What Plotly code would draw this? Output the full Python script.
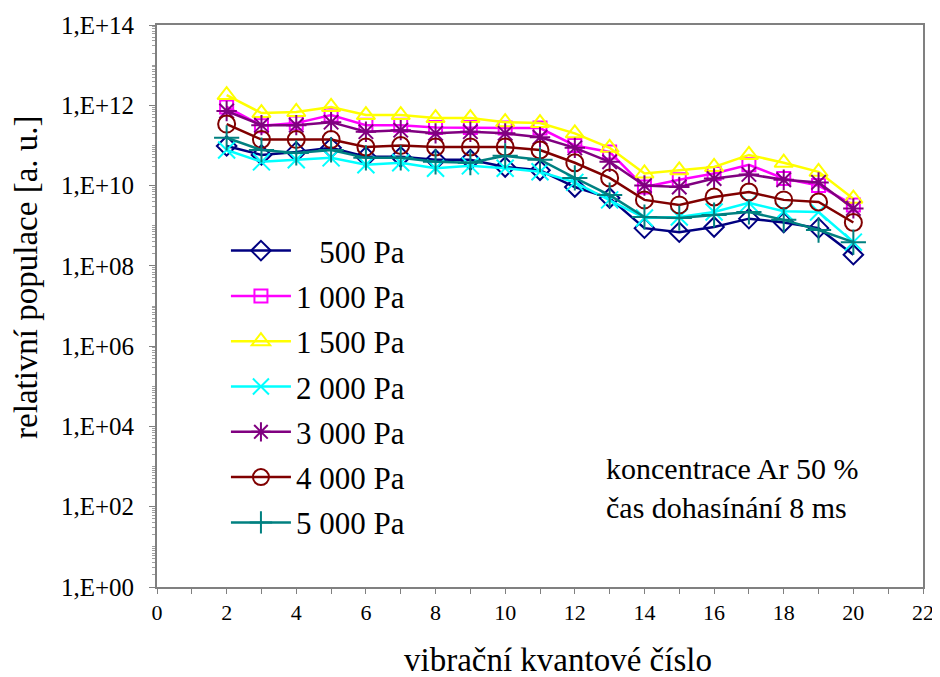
import plotly.graph_objects as go

x = list(range(2, 21))

p500 = [9.7e10, 5.8e10, 6.9e10, 8.7e10, 5.2e10, 5.2e10, 4.4e10, 4.4e10, 2.9e10, 2.4e10,
        9.2e9, 4.9e9, 8.7e8, 6.9e8, 9.3e8, 1.5e9, 1.2e9, 8.7e8, 1.9e8]
p1000 = [9.1e11, 3.1e11, 3.6e11, 5.7e11, 3.2e11, 3.2e11, 2.8e11, 2.8e11, 2.7e11, 2.7e11,
         1.0e11, 6.9e10, 9.2e9, 1.4e10, 2.0e10, 3.3e10, 1.5e10, 1.0e10, 3.3e9]
p1500 = [1.8e12, 6.4e11, 6.8e11, 9.1e11, 5.7e11, 5.7e11, 4.8e11, 4.8e11, 3.8e11, 3.6e11,
         2.0e11, 8.7e10, 2.0e10, 2.4e10, 2.9e10, 5.8e10, 3.7e10, 2.2e10, 4.7e9]
p2000 = [7.7e10, 3.9e10, 4.4e10, 4.9e10, 3.3e10, 3.7e10, 2.7e10, 3.1e10, 2.7e10, 2.2e10,
         1.2e10, 4.4e9, 1.55e9, 1.65e9, 2.2e9, 3.7e9, 2.3e9, 2.2e9, 3.9e8]
p3000 = [7.2e11, 3.2e11, 3.2e11, 3.8e11, 2.2e11, 2.4e11, 2.0e11, 2.2e11, 2.0e11, 1.6e11,
         8.7e10, 3.9e10, 1.0e10, 9.2e9, 1.5e10, 1.9e10, 1.4e10, 1.2e10, 2.7e9]
p4000 = [3.4e11, 1.4e11, 1.4e11, 1.4e11, 9.1e10, 1.0e11, 9.1e10, 9.1e10, 9.1e10, 7.7e10,
         3.7e10, 1.55e10, 4.4e9, 3.3e9, 5.2e9, 6.9e9, 4.4e9, 3.9e9, 1.2e9]
p5000 = [1.55e11, 7.7e10, 6.5e10, 7.7e10, 4.9e10, 4.9e10, 3.9e10, 3.7e10, 5.5e10, 4.4e10,
         1.55e10, 5.8e9, 1.65e9, 1.55e9, 1.85e9, 2.2e9, 1.4e9, 7.8e8, 3.9e8]

names = ["\u00a0\u00a0\u00a0500 Pa", "1 000 Pa", "1 500 Pa", "2 000 Pa", "3 000 Pa", "4 000 Pa", "5 000 Pa"]
series = [p500, p1000, p1500, p2000, p3000, p4000, p5000]
colors = ["#000080", "#FF00FF", "#FFFF00", "#00FFFF", "#800080", "#800000", "#008080"]
symbols = ["diamond-open", "square-open", "triangle-up-open", "x-thin-open",
           "asterisk-open", "circle-open", "cross-thin-open"]
sizes = [15, 13, 16, 17, 17, 17, 18]

ytick_vals = [10 ** k for k in range(0, 15, 2)]
ytick_text = ["1,E+%02d" % k for k in range(0, 15, 2)]

fig = go.Figure()
for i, (name, ys) in enumerate(zip(names, series)):
    fig.add_trace(go.Scatter(
        x=x, y=ys, name=name, mode="lines+markers", legendgroup=str(i),
        line=dict(color=colors[i], width=2.5),
        marker=dict(symbol=symbols[i], size=sizes[i], color=colors[i],
                    line=dict(color=colors[i], width=2)),
    ))

# page has an 8px body margin, so the figure is a bit smaller than the window
font = "Liberation Serif"
fig.update_layout(
    width=932, height=669,
    margin=dict(l=149, r=17, t=17, b=90),
    paper_bgcolor="white", plot_bgcolor="white",
    font=dict(family=font, size=20, color="black"),
    showlegend=True,
    legend=dict(x=0.09, y=0.646, xanchor="left", yanchor="top",
                font=dict(size=31), bgcolor="rgba(0,0,0,0)",
                tracegroupgap=2, itemwidth=60),
    annotations=[
        dict(x=0.584, y=0.243, xref="paper", yref="paper", xanchor="left", yanchor="top",
             text="koncentrace Ar 50 %<br>čas dohasínání 8 ms", showarrow=False,
             align="left", font=dict(size=30)),
        dict(x=0.523, y=-0.13, xref="paper", yref="paper", xanchor="center", yanchor="middle",
             text="vibrační kvantové číslo", showarrow=False, font=dict(size=33)),
        dict(x=-0.171, y=0.55, xref="paper", yref="paper", xanchor="center", yanchor="middle",
             text="relativní populace [a. u.]", showarrow=False, textangle=-90,
             font=dict(size=33)),
    ],
)
fig.update_xaxes(
    range=[0, 22], dtick=2, tick0=0, showgrid=False, zeroline=False, automargin=False,
    showline=True, linecolor="#808080", linewidth=2, mirror=True,
    ticks="outside", ticklen=5, tickcolor="#808080",
    minor=dict(dtick=1, ticks="outside", ticklen=5, tickcolor="#808080"),
    tickfont=dict(size=22),
)
fig.update_yaxes(
    type="log", range=[0, 14], tickvals=ytick_vals, ticktext=ytick_text,
    showgrid=False, zeroline=False, automargin=False,
    showline=True, linecolor="#808080", linewidth=2, mirror=True,
    ticks="outside", ticklen=6, tickcolor="#808080",
    minor=dict(dtick="D1", ticks="outside", ticklen=3, tickcolor="#a0a0a0"),
    tickfont=dict(size=25), ticklabelstandoff=10,
)

fig.write_html("out.html")
